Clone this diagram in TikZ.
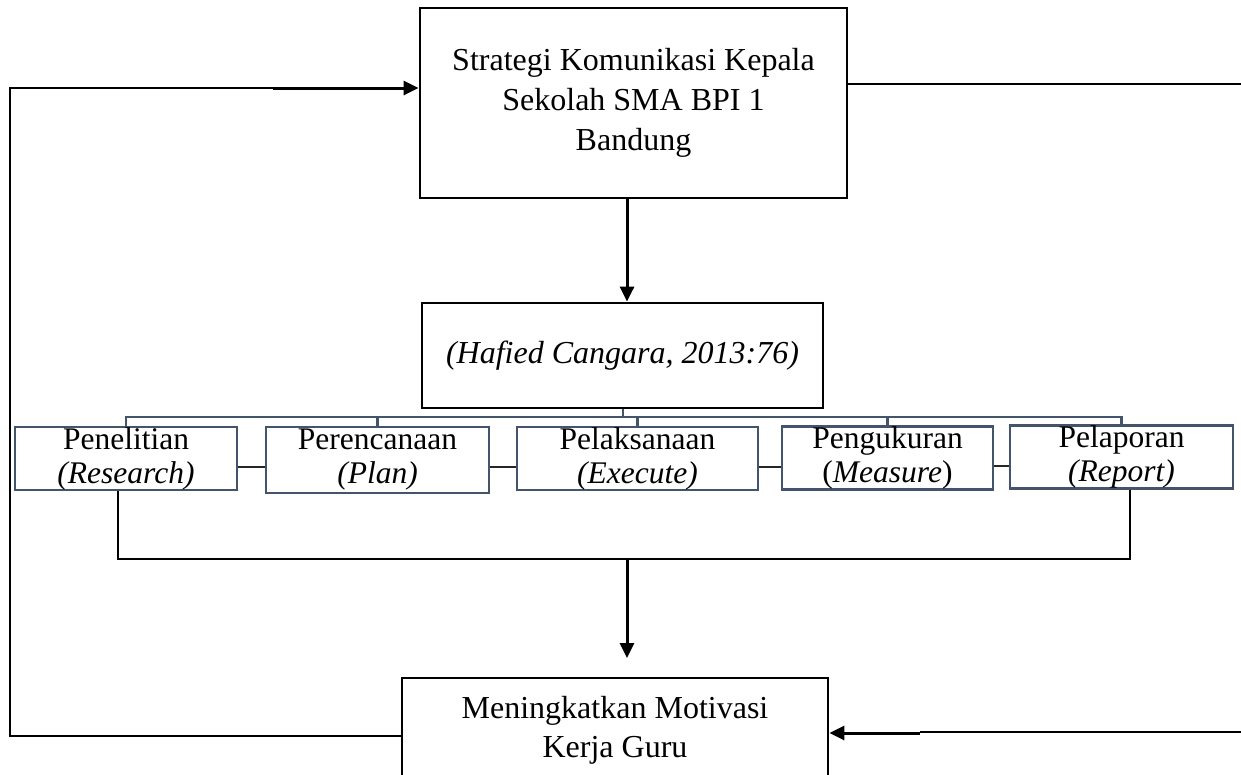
\documentclass[tikz,border=0pt]{standalone}
\usepackage{fontspec}
\setmainfont{Liberation Serif}
\usetikzlibrary{arrows.meta}
\definecolor{slate}{HTML}{44546A}
\begin{document}
\begin{tikzpicture}[x=1pt,y=-1pt,
  bigbox/.style={draw=black, line width=2.8pt, inner sep=0pt, align=center, font=\fontsize{32}{40}\selectfont},
  subbox/.style={draw=slate, line width=2.6pt, inner sep=0pt, align=center, font=\fontsize{31.5}{34}\selectfont},
  bus/.style={draw=slate, line width=2.2pt},
  link/.style={draw=black!85, line width=1.4pt},
  thinline/.style={draw=black, line width=1.2pt},
  arr/.style={draw=black, line width=3pt, -{Triangle[length=15pt,width=14pt]}},
]
\useasboundingbox (0,0) rectangle (1241,774);
\clip (0,0) rectangle (1241,774);

% main boxes
\node[bigbox, minimum width=427pt, minimum height=190pt] (T) at (633.5,103)
  {Strategi Komunikasi Kepala\\Sekolah SMA BPI 1\\Bandung};
\node[bigbox, minimum width=401pt, minimum height=105pt] (H) at (622.5,355.5)
  {\itshape (Hafied Cangara, 2013:76)};
\node[bigbox, font=\fontsize{32}{39}\selectfont, minimum width=426pt, minimum height=105pt] (M) at (615,730.5)
  {Meningkatkan Motivasi\\Kerja Guru};

% sub boxes
\node[subbox, minimum width=222pt, minimum height=63pt] (A) at (126,458.5)
  {Penelitian\\\textit{(Research)}};
\node[subbox, minimum width=223pt, minimum height=66pt] (B) at (377.5,460)
  {Perencanaan\\\textit{(Plan)}};
\node[subbox, minimum width=241pt, minimum height=63pt] (C) at (637.5,458.5)
  {Pelaksanaan\\\textit{(Execute)}};
\node[subbox, minimum width=211pt, minimum height=62pt] (D) at (887.5,458)
  {Pengukuran\\(\textit{Measure})};
\node[subbox, minimum width=223pt, minimum height=60pt] (E) at (1121.5,457)
  {Pelaporan\\\textit{(Report)}};

% bus from H to sub boxes
\draw[bus] (H.south -| 623,0) -- (623,417);
\draw[bus] (A.north) -- (A.north |- 0,417) -- (E.north |- 0,417) -- (E.north);
\draw[bus] (B.north) -- (B.north |- 0,417);
\draw[bus] (C.north) -- (C.north |- 0,417);
\draw[bus] (D.north) -- (D.north |- 0,417);

% links between sub boxes
\draw[link] (A.east |- 0,467) -- (B.west |- 0,467);
\draw[link] (B.east |- 0,467) -- (C.west |- 0,467);
\draw[link] (C.east |- 0,467) -- (D.west |- 0,467);
\draw[link] (D.east |- 0,466) -- (E.west |- 0,466);

% T to H
\draw[arr] (T.south -| 627,0) -- (H.north -| 627,0);

% collecting line to M
\coordinate (join) at (627,558);
\coordinate (tipM) at (627,658);
\draw[thinline] (A.south -| 118,0) -- (118,559) -- (1130,559) -- (E.south -| 1130,0);
\draw[arr] (join) -- (tipM);

% feedback loop left
\coordinate (lb) at (10,736);
\coordinate (lt) at (10,88);
\coordinate (lk) at (273,88);
\draw[thinline] (M.west |- 0,736) -- (lb) -- (lt) -- (lk);
\draw[arr] (lk) -- (T.west |- 0,88);

% right lines
\coordinate (rt) at (1241,84);
\draw[thinline] (T.east |- 0,84) -- (rt);
\coordinate (rb) at (1241,732);
\coordinate (rk) at (920,733);
\draw[thinline] (rb) -- (920,732);
\draw[arr] (rk) -- (M.east |- 0,733);
\end{tikzpicture}
\end{document}
